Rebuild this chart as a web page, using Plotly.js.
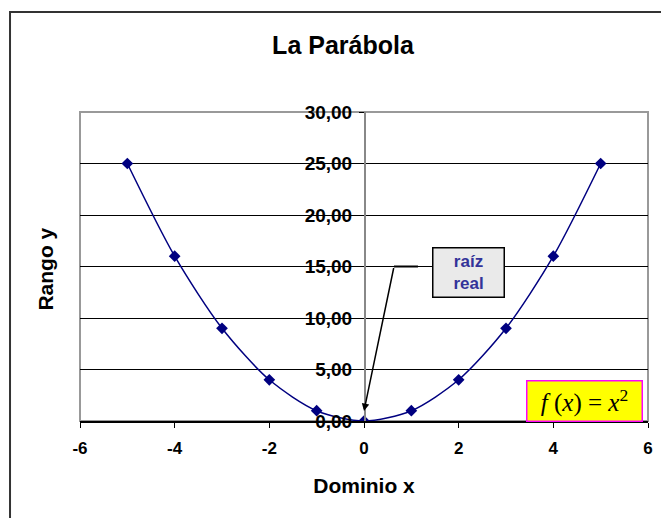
<!DOCTYPE html>
<html>
<head>
<meta charset="utf-8">
<script src="https://cdn.plot.ly/plotly-3.0.1.min.js"></script>
<style>html,body{margin:0;padding:0;background:#fff;}#chart{width:661px;height:518px;}</style>
</head>
<body>
<div id="chart"></div>
<script>
// Data
const xValues = [-5, -4, -3, -2, -1, 0, 1, 2, 3, 4, 5];
const yValues = [25, 16, 9, 4, 1, 0, 1, 4, 9, 16, 25];
const xTicks = [-6, -4, -2, 0, 2, 4, 6];
const yTicks = [0, 5, 10, 15, 20, 25, 30];
const yTickLabels = ['0,00', '5,00', '10,00', '15,00', '20,00', '25,00', '30,00'];
const chartTitle = 'La Parábola';
const xTitle = 'Dominio x';
const yTitle = 'Rango y';
const rootLabel = 'raíz<br>real';
const formulaLabel = '<i>f</i> (<i>x</i>) = <i>x</i><sup>2</sup>';

const font = 'Arial, "Liberation Sans", sans-serif';

const trace = {
  x: xValues, y: yValues, type: 'scatter', mode: 'lines+markers',
  line: {color: '#000080', width: 1.5, shape: 'spline', smoothing: 0.8},
  marker: {symbol: 'diamond', size: 9, color: '#000080'},
  hoverinfo: 'skip', showlegend: false
};

const layout = {
  width: 661, height: 518,
  margin: {l: 80, r: 13, t: 112, b: 97},
  paper_bgcolor: '#fff', plot_bgcolor: '#fff',
  font: {family: font, color: '#000'},
  title: {text: '<b>' + chartTitle + '</b>', font: {size: 25, family: font, color: '#000'},
          xref: 'paper', x: 0.463, xanchor: 'center', yref: 'container', y: 0.913, yanchor: 'middle'},
  xaxis: {
    range: [-6, 6], tickvals: xTicks, ticktext: xTicks.map(v => '<b>' + v + '</b>'),
    showgrid: false, zeroline: false, showline: true, linecolor: '#000', linewidth: 1.5,
    ticks: 'outside', ticklen: 5, tickcolor: '#000', tickwidth: 1, ticklabelstandoff: 6,
    tickfont: {size: 17, family: font, color: '#000'},
    title: {text: '<b>' + xTitle + '</b>', font: {size: 21, family: font, color: '#000'}, standoff: 21},
    fixedrange: true
  },
  yaxis: {
    range: [0, 30], tickvals: yTicks, ticktext: yTickLabels.map(s => '<b>' + s + '</b>'),
    anchor: 'free', position: 0.5, side: 'left',
    showgrid: true, gridcolor: '#000', gridwidth: 1,
    zeroline: false, showline: true, linecolor: '#888', linewidth: 1.5,
    ticks: 'outside', ticklen: 5, tickcolor: '#000', tickwidth: 1, ticklabelstandoff: 3,
    tickfont: {size: 19, family: font, color: '#000'},
    fixedrange: true
  },
  shapes: [
    {type: 'rect', xref: 'paper', yref: 'paper', x0: 0, x1: 1, y0: 0, y1: 1,
     line: {color: '#999', width: 2}, layer: 'below'},
    {type: 'rect', xref: 'paper', yref: 'paper', x0: -0.1232, x1: 1.2, y0: -0.6, y1: 1.3236,
     line: {color: '#333', width: 2}},
    {type: 'line', xref: 'x', yref: 'y', x0: 0.634, x1: 1.14, y0: 15, y1: 15,
     line: {color: '#000', width: 2}}
  ],
  annotations: [
    {xref: 'paper', yref: 'paper', x: -0.06, y: 0.493, text: '<b>' + yTitle + '</b>', textangle: -90,
     showarrow: false, font: {size: 21, family: font, color: '#000'}, xanchor: 'center', yanchor: 'middle'},
    {xref: 'x', yref: 'y', x: 2.2, y: 14.46, text: '<b>' + rootLabel + '</b>', showarrow: false,
     bgcolor: '#EAEAEA', bordercolor: '#000', borderwidth: 1.5, borderpad: 3, width: 64, height: 42,
     font: {size: 17, family: font, color: '#333399'}, align: 'center'},
    {xref: 'x', yref: 'y', x: 0, y: 0.97, axref: 'x', ayref: 'y', ax: 0.634, ay: 15, text: '',
     showarrow: true, arrowhead: 2, arrowsize: 1, arrowwidth: 1.5, arrowcolor: '#000'},
    {xref: 'x', yref: 'y', x: 4.66, y: 1.95, text: formulaLabel, showarrow: false,
     bgcolor: '#FFFF00', bordercolor: '#FF00FF', borderwidth: 1.5, borderpad: 3, width: 108, height: 33,
     font: {size: 25, family: '"Liberation Serif", "Times New Roman", serif', color: '#000'}}
  ]
};

Plotly.newPlot('chart', [trace], layout, {displayModeBar: false, staticPlot: true});
</script>
</body>
</html>
